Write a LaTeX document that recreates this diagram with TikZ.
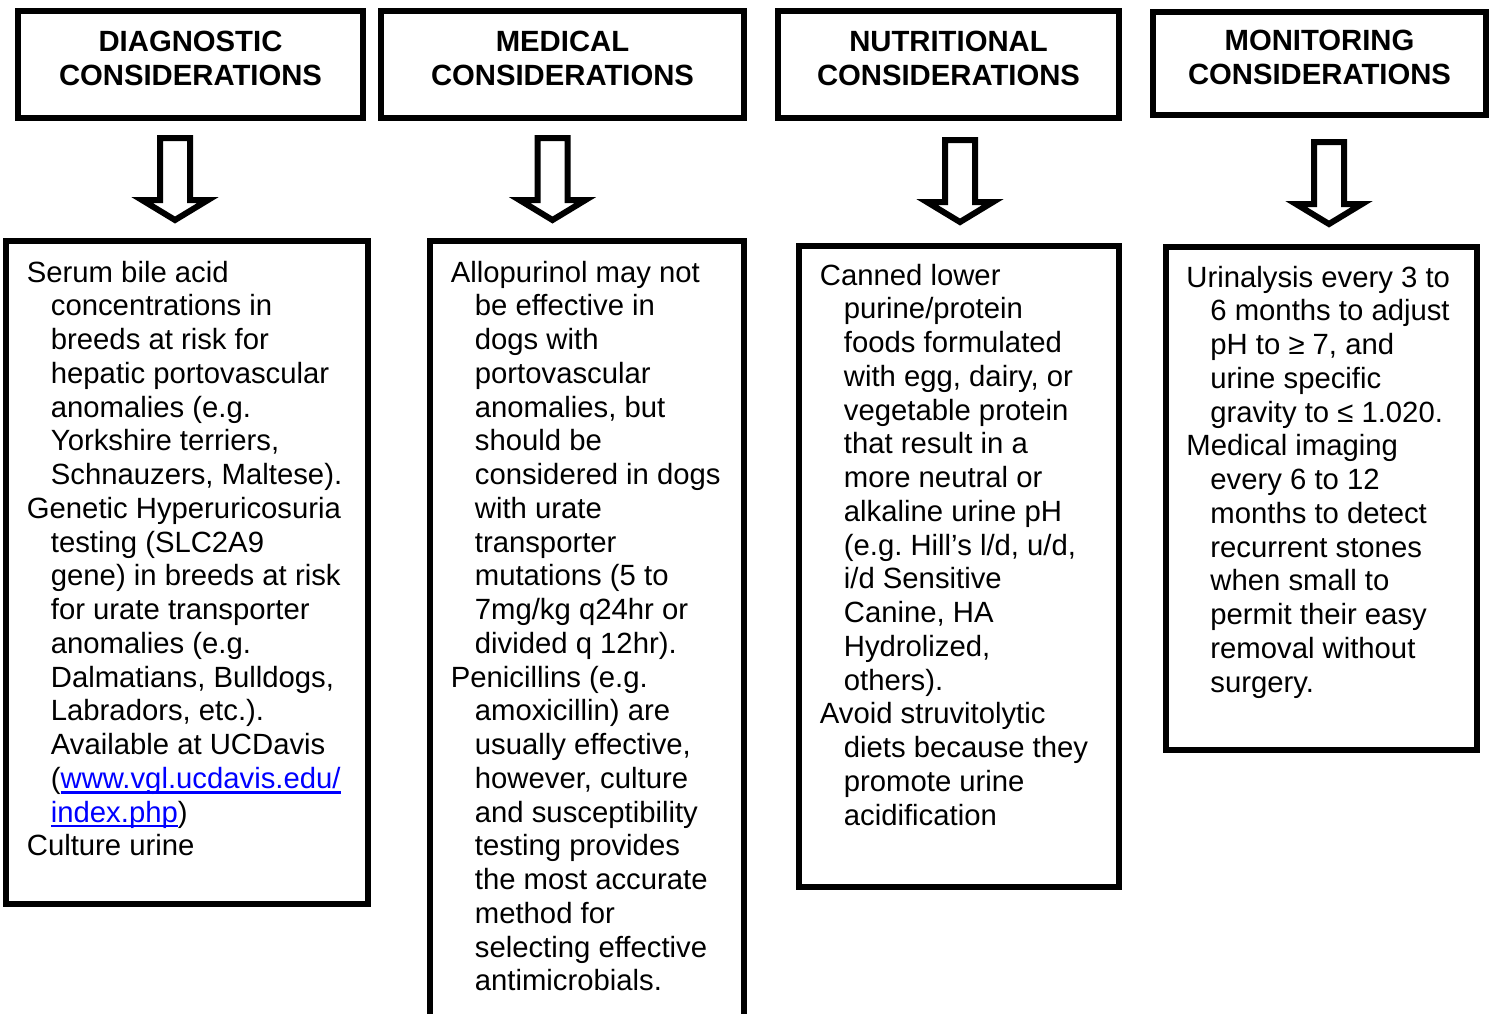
\documentclass[tikz,border=0pt]{standalone}
\usepackage{fontspec}
\setmainfont{Liberation Sans}
\usetikzlibrary{positioning}

\definecolor{linkblue}{RGB}{0,0,255}
\newcommand{\boxfont}{\fontsize{14.64pt}{16.88pt}\selectfont\frenchspacing}
\newcommand{\indline}{\hspace*{12pt}}
\newcommand{\weblink}[1]{{\color{linkblue}\setbox0\hbox{#1}\rlap{\rule[-2.6pt]{\wd0}{1.1pt}}\box0}}
\newcommand{\headlines}[2]{\begin{minipage}[b]{150pt}\centering\bfseries #1\\#2\end{minipage}}
\newcommand{\bodylines}[1]{\begin{minipage}[t]{175pt}\raggedright #1\end{minipage}}

\tikzset{
  header/.style={draw, line width=3pt, minimum height=53.5pt, text depth=6.5pt, inner sep=0pt, font=\boxfont},
  bodybox/.style={draw, line width=3pt, inner sep=0pt},
  bodytext/.style={anchor=base west, inner sep=0pt, font=\boxfont},
  hollowarrow/.pic={
    \draw[line width=3pt] (-15,0) -- (15,0) -- (15,62) -- (33,62) -- (0,82) -- (-33,62) -- (-15,62) -- cycle;
  }
}

\begin{document}
\begin{tikzpicture}[x=0.5pt,y=-0.5pt]
        \useasboundingbox (0,0) rectangle (1489,1013);
        \fill[white] (0,0) rectangle (1489,1013);
        % headers
        \node[header, minimum width=172.5pt] (diag) at (190.5,64.5) {\headlines{DIAGNOSTIC}{CONSIDERATIONS}};
        \node[header, minimum width=181.5pt] (med) at (562.5,64.5) {\headlines{MEDICAL}{CONSIDERATIONS}};
        \node[header, minimum width=170.5pt] (nutr) at (948.5,64.5) {\headlines{NUTRITIONAL}{CONSIDERATIONS}};
        \node[header, minimum width=166.5pt, minimum height=51.5pt] (monit) at (1319.5,63.5) {\headlines{MONITORING}{CONSIDERATIONS}};
        % arrows down
        \pic at (175,138) {hollowarrow};
        \pic at (552.5,138) {hollowarrow};
        \pic at (960,140) {hollowarrow};
        \pic at (1329,142) {hollowarrow};
        % boxes below
        \node[bodybox, minimum width=181pt, minimum height=331.5pt] (diagbox) at (187,572.5) {};
        \node[bodybox, minimum width=157pt, minimum height=394.5pt] (medbox) at (587,635.5) {};
        \node[bodybox, minimum width=160pt, minimum height=320.5pt] (nutrbox) at (959,566.5) {};
        \node[bodybox, minimum width=155.5pt, minimum height=251.5pt] (monitbox) at (1321.5,498.5) {};
        % texts
        \node[bodytext] (diagtext) at (26.5,282) {\bodylines{%
          Serum bile acid\\
          \indline concentrations in\\
          \indline breeds at risk for\\
          \indline hepatic portovascular\\
          \indline anomalies (e.g.\\
          \indline Yorkshire terriers,\\
          \indline Schnauzers, Maltese).\\
          Genetic Hyperuricosuria\\
          \indline testing (SLC2A9\\
          \indline gene) in breeds at risk\\
          \indline for urate transporter\\
          \indline anomalies (e.g.\\
          \indline Dalmatians, Bulldogs,\\
          \indline Labradors, etc.).\\
          \indline Available at UCDavis\\
          \indline (\weblink{www.vgl.ucdavis.edu/}\\
          \indline \weblink{index.php})\\
          Culture urine}};
        \node[bodytext] (medtext) at (450.5,282) {\bodylines{%
          Allopurinol may not\\
          \indline be effective in\\
          \indline dogs with\\
          \indline portovascular\\
          \indline anomalies, but\\
          \indline should be\\
          \indline considered in dogs\\
          \indline with urate\\
          \indline transporter\\
          \indline mutations (5 to\\
          \indline 7mg/kg q24hr or\\
          \indline divided q 12hr).\\
          Penicillins (e.g.\\
          \indline amoxicillin) are\\
          \indline usually effective,\\
          \indline however, culture\\
          \indline and susceptibility\\
          \indline testing provides\\
          \indline the most accurate\\
          \indline method for\\
          \indline selecting effective\\
          \indline antimicrobials.}};
        \node[bodytext] (nutrtext) at (819.5,285) {\bodylines{%
          Canned lower\\
          \indline purine/protein\\
          \indline foods formulated\\
          \indline with egg, dairy, or\\
          \indline vegetable protein\\
          \indline that result in a\\
          \indline more neutral or\\
          \indline alkaline urine pH\\
          \indline (e.g. Hill’s l/d, u/d,\\
          \indline i/d Sensitive\\
          \indline Canine, HA\\
          \indline Hydrolized,\\
          \indline others).\\
          Avoid struvitolytic\\
          \indline diets because they\\
          \indline promote urine\\
          \indline acidification}};
        \node[bodytext] (monittext) at (1186,287) {\bodylines{%
          Urinalysis every 3 to\\
          \indline 6 months to adjust\\
          \indline pH to ≥ 7, and\\
          \indline urine specific\\
          \indline gravity to ≤ 1.020.\\
          Medical imaging\\
          \indline every 6 to 12\\
          \indline months to detect\\
          \indline recurrent stones\\
          \indline when small to\\
          \indline permit their easy\\
          \indline removal without\\
          \indline surgery.}};
\end{tikzpicture}
\end{document}
